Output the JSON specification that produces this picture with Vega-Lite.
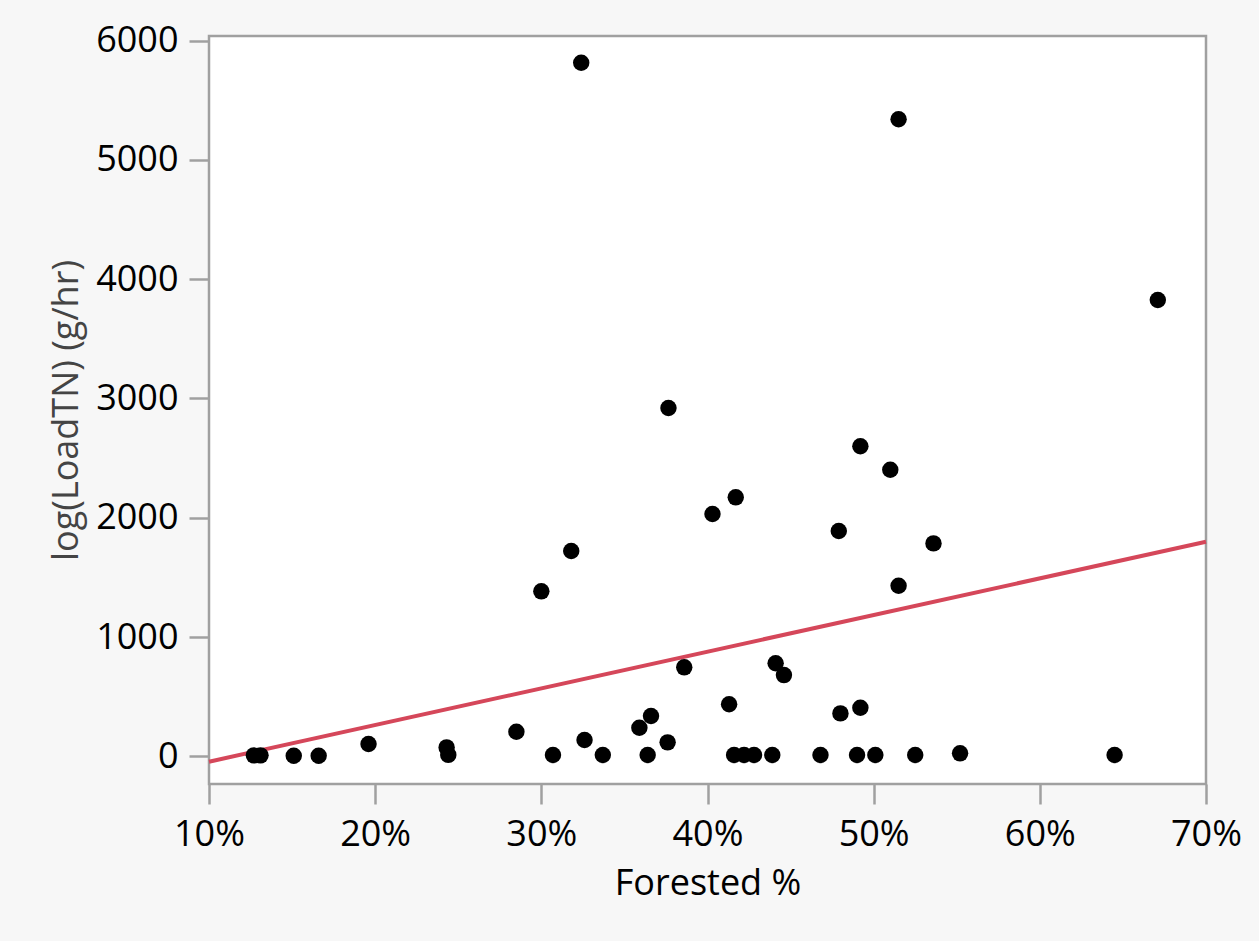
{
  "$schema": "https://vega.github.io/schema/vega-lite/v6.json",
  "width": 997,
  "height": 748,
  "autosize": {"type": "none"},
  "padding": {"left": 209, "top": 36, "right": 53, "bottom": 157},
  "background": "#f7f7f7",
  "config": {
    "view": {"stroke": "#a0a0a0", "strokeWidth": 2.5, "fill": "#ffffff"},
    "axis": {
      "domain": false,
      "grid": false,
      "tickColor": "#a0a0a0",
      "tickWidth": 2.5,
      "tickSize": 20,
      "labelFont": "Open Sans",
      "labelFontSize": 36,
      "labelColor": "#000000",
      "labelFlush": false,
      "labelOverlap": false,
      "titleFont": "Open Sans",
      "titleFontSize": 36,
      "titleFontWeight": "normal"
    }
  },
  "datasets": {
    "points": [
      {"forested": 0.127, "load": 8},
      {"forested": 0.131, "load": 8},
      {"forested": 0.151, "load": 5},
      {"forested": 0.166, "load": 5},
      {"forested": 0.196, "load": 103},
      {"forested": 0.243, "load": 75},
      {"forested": 0.244, "load": 12},
      {"forested": 0.285, "load": 206},
      {"forested": 0.300, "load": 1383},
      {"forested": 0.307, "load": 11},
      {"forested": 0.318, "load": 1721},
      {"forested": 0.324, "load": 5814},
      {"forested": 0.326, "load": 137},
      {"forested": 0.337, "load": 11},
      {"forested": 0.359, "load": 240},
      {"forested": 0.364, "load": 11},
      {"forested": 0.366, "load": 338},
      {"forested": 0.376, "load": 117},
      {"forested": 0.3765, "load": 2920},
      {"forested": 0.386, "load": 746},
      {"forested": 0.403, "load": 2031},
      {"forested": 0.413, "load": 436},
      {"forested": 0.416, "load": 11},
      {"forested": 0.422, "load": 11},
      {"forested": 0.428, "load": 11},
      {"forested": 0.417, "load": 2171},
      {"forested": 0.439, "load": 11},
      {"forested": 0.441, "load": 780},
      {"forested": 0.446, "load": 681},
      {"forested": 0.468, "load": 11},
      {"forested": 0.479, "load": 1889},
      {"forested": 0.480, "load": 360},
      {"forested": 0.490, "load": 11},
      {"forested": 0.492, "load": 2599},
      {"forested": 0.492, "load": 407},
      {"forested": 0.501, "load": 11},
      {"forested": 0.510, "load": 2402},
      {"forested": 0.515, "load": 5340},
      {"forested": 0.515, "load": 1430},
      {"forested": 0.525, "load": 11},
      {"forested": 0.536, "load": 1785},
      {"forested": 0.552, "load": 25},
      {"forested": 0.645, "load": 11},
      {"forested": 0.671, "load": 3825}
    ],
    "fit": [
      {"forested": 0.10, "load": -45},
      {"forested": 0.70, "load": 1799}
    ]
  },
  "encoding": {
    "x": {
      "field": "forested",
      "type": "quantitative",
      "scale": {"domain": [0.1, 0.7], "nice": false, "zero": false},
      "axis": {
        "title": "Forested %",
        "values": [0.1, 0.2, 0.3, 0.4, 0.5, 0.6, 0.7],
        "format": ".0%",
        "labelPadding": 41,
        "labelBaseline": "alphabetic",
        "titleColor": "#000000",
        "titleY": 110,
        "titleBaseline": "alphabetic"
      }
    },
    "y": {
      "field": "load",
      "type": "quantitative",
      "scale": {"domain": [-232, 6038], "nice": false, "zero": false},
      "axis": {
        "title": "log(LoadTN) (g/hr)",
        "values": [0, 1000, 2000, 3000, 4000, 5000, 6000],
        "format": "d",
        "labelPadding": 11,
        "labelBaseline": "middle",
        "titleColor": "#444444",
        "titleX": -132,
        "titleBaseline": "alphabetic"
      }
    }
  },
  "layer": [
    {
      "data": {"name": "fit"},
      "mark": {"type": "line", "color": "#d5475a", "strokeWidth": 4}
    },
    {
      "data": {"name": "points"},
      "mark": {"type": "point", "filled": true, "color": "#000000", "opacity": 1, "size": 270, "shape": "circle", "strokeWidth": 0}
    }
  ]
}
